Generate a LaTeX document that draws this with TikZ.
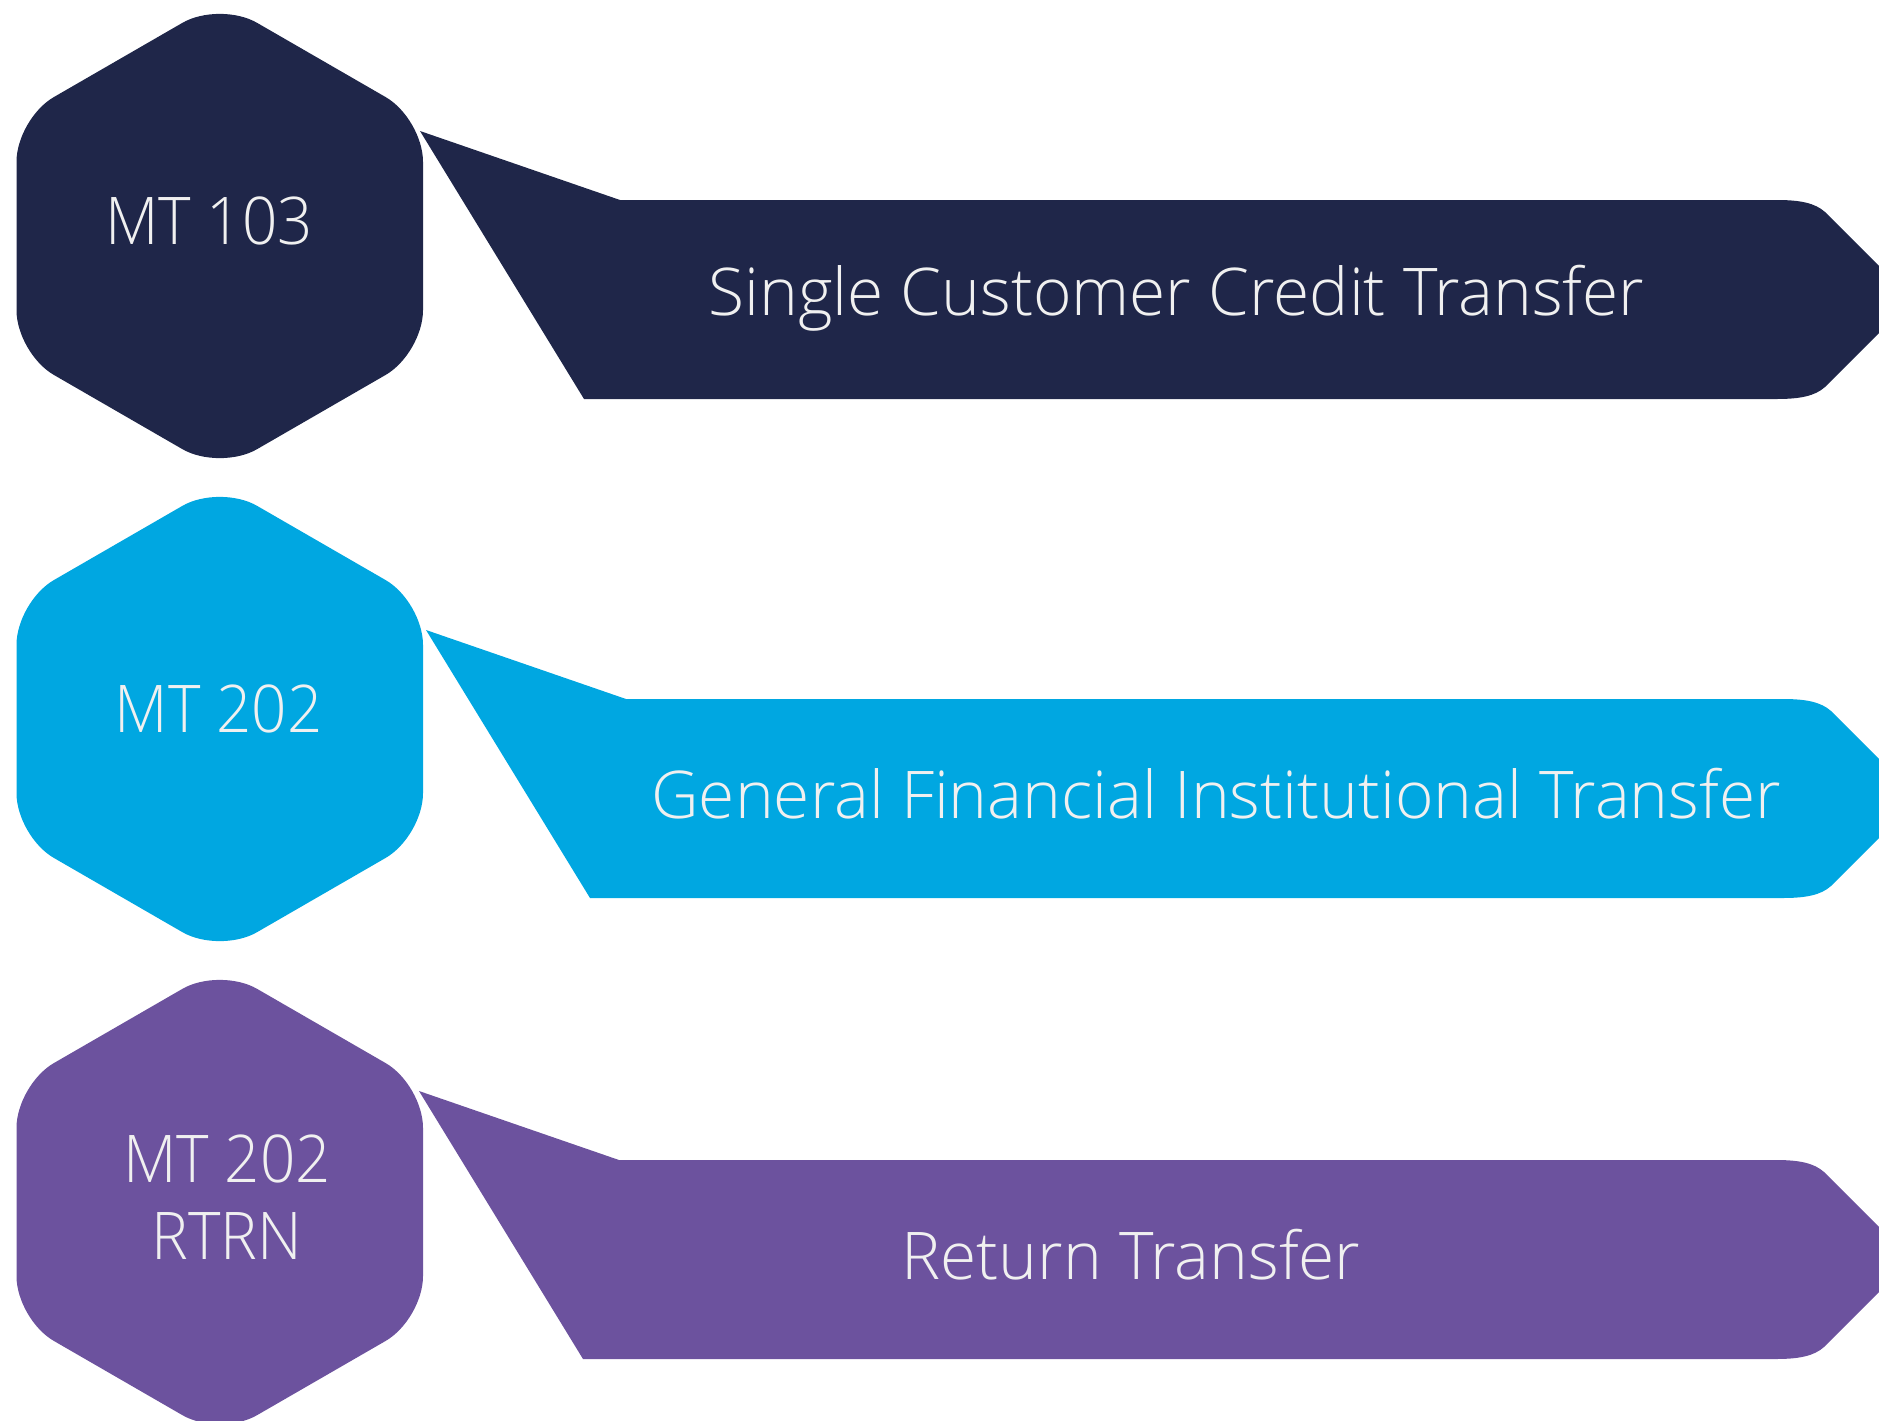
\documentclass[tikz,border=0pt]{standalone}
\usepackage{fontspec}
\IfFontExistsTF{Open Sans Light}
  {\setmainfont{Open Sans Light}
   \newfontfamily\codefont{Open Sans Light}[FakeStretch=0.94]}
  {\setmainfont{Open Sans}[FakeStretch=0.96]
   \newfontfamily\codefont{Open Sans}[FakeStretch=0.95]}
\definecolor{mtnavy}{HTML}{1F2649}
\definecolor{mtsky}{HTML}{00A7E1}
\definecolor{mtviolet}{HTML}{6C529E}
\definecolor{mtlabel}{HTML}{F0F0F0}

% rounded hexagon centred at the current origin
\newcommand\mthexagon[1]{%
  \fill[#1, rounded corners=43pt]
    (0,-234.7) -- (203.25,-117.35) -- (203.25,117.35) -- (0,234.7)
    -- (-203.25,117.35) -- (-203.25,-117.35) -- cycle;}

% notched banner whose top edge lies on y = 0
\newcommand\mtbanner[1]{%
  \fill[#1]
    (420,-69) -- (620,0) -- (1777,0)
    .. controls (1800,0) and (1815,3) .. (1825,12)
    -- (1912.5,99.5) -- (1825,187)
    .. controls (1815,196) and (1800,199) .. (1777,199)
    -- (584,199) -- cycle;}

\begin{document}
\begin{tikzpicture}[x=1pt, y=-1pt,
  row1/.style={fill=mtnavy},
  row2/.style={fill=mtsky},
  row3/.style={fill=mtviolet},
  label/.style={text=mtlabel, inner sep=0pt, anchor=base,
    font=\fontsize{65.8}{77}\selectfont},
  codelabel/.style={label, align=center,
    font=\codefont\fontsize{65.8}{77}\selectfont}]
  \useasboundingbox (0,0) rectangle (1879,1421);
  \clip (0,0) rectangle (1879,1421);

  % hexagons
  \begin{scope}[shift={(219.75,236)}]\mthexagon{row1}\end{scope}
  \begin{scope}[shift={(219.75,719)}]\mthexagon{row2}\end{scope}
  \begin{scope}[shift={(219.75,1202)}]\mthexagon{row3}\end{scope}

  % banners
  \begin{scope}[shift={(0,200)}]\mtbanner{row1}\end{scope}
  \begin{scope}[shift={(6,699)}]\mtbanner{row2}\end{scope}
  \begin{scope}[shift={(-1,1160)}]\mtbanner{row3}\end{scope}

  % message type codes
  \node[codelabel] (code1) at (209,244) {MT 103};
  \node[codelabel] (code2) at (218.5,732) {MT 202};
  \node[codelabel] (code3) at (227,1259) {MT 202\\RTRN};

  % descriptions
  \node[label] (desc1) at (1176.5,315) {Single Customer Credit Transfer};
  \node[label] (desc2) at (1216,818) {General Financial Institutional Transfer};
  \node[label] (desc3) at (1131,1279) {Return Transfer};
\end{tikzpicture}
\end{document}
